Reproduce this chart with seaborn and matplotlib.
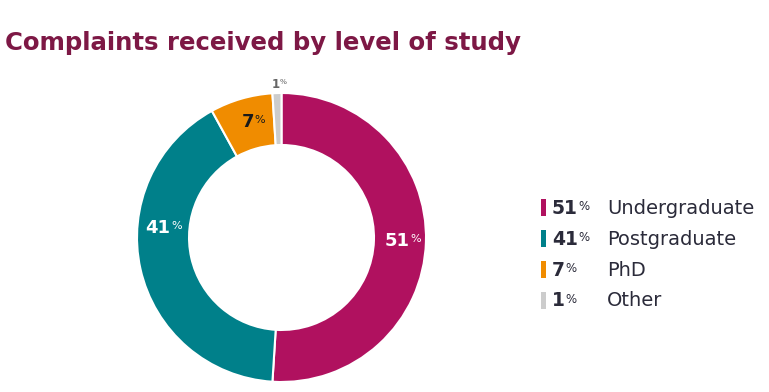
import seaborn as sns
import matplotlib

matplotlib.use("Agg")
import matplotlib.pyplot as plt
import numpy as np

sns.set_theme(style="white")
plt.rcParams['font.family'] = ['DejaVu Sans']

levels = ["Undergraduate", "Postgraduate", "PhD", "Other"]
shares = [51, 41, 7, 1]
colors = ["#b0115f", "#00808a", "#f08c00", "#cccccc"]
label_colors = ["white", "white", "#1a1a1a", "#666666"]

title_color = "#7d1845"
text_color = "#2b2b3a"

W, H = 769, 392
fig = plt.figure(figsize=(W / 100, H / 100), dpi=100)

# donut axes, centred around (281, 237) px with radius ~145 px
cx, cy, r = 281.5, 237.5, 144.5
ax = fig.add_axes([(cx - r) / W, (H - cy - r) / H, 2 * r / W, 2 * r / H])
wedges, _ = ax.pie(shares, colors=colors, startangle=90, counterclock=False,
                   radius=1, wedgeprops=dict(width=0.36, edgecolor="white", linewidth=1.5))
ax.set_xlim(-1, 1)
ax.set_ylim(-1, 1)
ax.axis("off")


def pct_label(axis, x, y, value, size, color):
    num = axis.text(x, y, str(value), fontsize=size, fontweight="bold", color=color,
                    ha="right", va="center")
    axis.annotate("%", xy=(1, 0.9), xycoords=num, xytext=(0.3, 0), textcoords="offset points",
                  fontsize=size * 0.62, color=color, ha="left", va="top")
    return num


# label angle tweaks (degrees) to sit where the original puts them
angle_shift = [0, -17, 0, 0]
for w, v, lc, da in zip(wedges, shares, label_colors, angle_shift):
    mid = np.deg2rad((w.theta1 + w.theta2) / 2 + da)
    if v < 3:
        rr, size = 1.06, 8.5
    else:
        rr, size = 0.83, 13
    x, y = rr * np.cos(mid), rr * np.sin(mid)
    if v < 3:
        x -= 0.02
    pct_label(ax, x + (0.06 if v >= 10 else 0.04), y, v, size, lc)

# overlay for title and legend
ov = fig.add_axes([0, 0, 1, 1])
ov.set_xlim(0, W)
ov.set_ylim(H, 0)
ov.axis("off")
ov.patch.set_alpha(0)

ov.text(5, 43, "Complaints received by level of study", fontsize=17.6, fontweight="bold",
        color=title_color, ha="left", va="center")

row_y = [207, 238, 269, 300]
for yy, lev, v, c in zip(row_y, levels, shares, colors):
    ov.add_patch(plt.Rectangle((541, yy - 8), 5, 17, color=c, lw=0))
    num = ov.text(552, yy + 1, str(v), fontsize=13.5, fontweight="bold", color=text_color,
                  ha="left", va="center")
    ov.annotate("%", xy=(1, 0.9), xycoords=num, xytext=(0.3, 0), textcoords="offset points",
                fontsize=8.5, color=text_color, ha="left", va="top")
    ov.text(607, yy + 1, lev, fontsize=14, color=text_color, ha="left", va="center")

fig.savefig("out.png", dpi=100)
